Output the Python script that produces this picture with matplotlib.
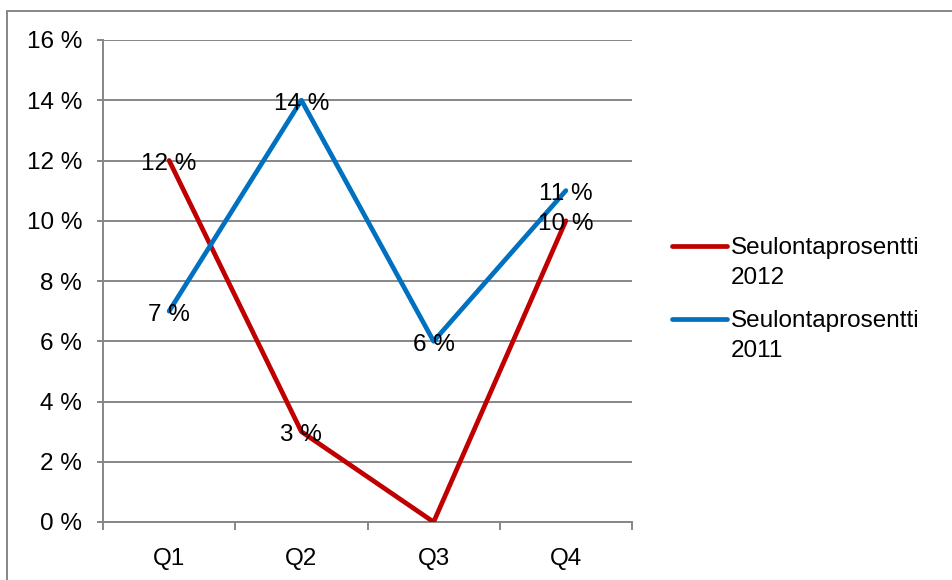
import matplotlib
matplotlib.use('Agg')
import matplotlib.pyplot as plt
from matplotlib.lines import Line2D
from matplotlib.patches import Rectangle

plt.rcParams['font.family'] = ['Liberation Sans', 'DejaVu Sans']

# --- Data -------------------------------------------------------------
QUARTERS = ['Q1', 'Q2', 'Q3', 'Q4']
RATE_2012 = [12, 3, 0, 10]
RATE_2011 = [7, 14, 6, 11]
Y_TICKS = [0, 2, 4, 6, 8, 10, 12, 14, 16]
LABEL_2012 = 'Seulontaprosentti\n2012'
LABEL_2011 = 'Seulontaprosentti\n2011'

RED = '#C00000'
BLUE = '#0070C0'
GRID = '#868686'
FS = 17.5
W, H = 952, 580

fig = plt.figure(figsize=(9.52, 5.8), dpi=100, facecolor='white')
ax = fig.add_axes([103 / W, 1 - 522 / H, (632 - 103) / W, (522 - 40) / H])

x = list(range(len(QUARTERS)))
ax.plot(x, RATE_2012, color=RED, lw=3.4, solid_capstyle='round', zorder=3)
ax.plot(x, RATE_2011, color=BLUE, lw=3.4, solid_capstyle='round', zorder=3)

# data labels (zero values carry no label in the original)
for xs, ys in [(x, RATE_2012), (x, RATE_2011)]:
    for xi, yi in zip(xs, ys):
        if yi == 0:
            continue
        ax.annotate(f'{yi} %', (xi, yi), xytext=(0, -2.5),
                    textcoords='offset points', ha='center', va='center',
                    fontsize=FS, color='black', zorder=4)

ax.set_xlim(-0.5, len(QUARTERS) - 0.5)
ax.set_ylim(0, 16)
ax.set_yticks(Y_TICKS)
ax.set_yticklabels([f'{v} %' for v in Y_TICKS])
ax.set_xticks(x)
ax.set_xticklabels(QUARTERS)
ax.set_xticks([i - 0.5 for i in range(len(QUARTERS) + 1)], minor=True)

ax.grid(axis='y', color=GRID, lw=1.4)
ax.set_axisbelow(True)
for side in ['top', 'right']:
    ax.spines[side].set_visible(False)
for side in ['left', 'bottom']:
    ax.spines[side].set_color(GRID)
    ax.spines[side].set_linewidth(1.4)

ax.tick_params(axis='y', which='major', length=4, width=1.4, color=GRID,
               labelsize=FS, pad=11)
ax.tick_params(axis='x', which='major', length=0, labelsize=FS, pad=19)
ax.tick_params(axis='x', which='minor', length=6, width=1.4, color=GRID)

# --- Legend (drawn by hand so the handle sits on the first text line) ---
for y_px, col, lab in [(246, RED, LABEL_2012), (319, BLUE, LABEL_2011)]:
    fig.add_artist(Line2D([672 / W, 727 / W], [1 - y_px / H] * 2,
                          color=col, lw=3.4, solid_capstyle='round'))
    fig.text(731 / W, 1 - (y_px + 17) / H, lab, ha='left', va='center',
             fontsize=FS, linespacing=1.42)

# --- Outer chart border (cropped on right and bottom) ---------------------
fig.add_artist(Rectangle((7 / W, -0.05), 1.2, 1.05 - 11 / H,
                         transform=fig.transFigure, fill=False,
                         edgecolor=GRID, lw=1.4))

fig.savefig('out.png', dpi=100, facecolor='white')
